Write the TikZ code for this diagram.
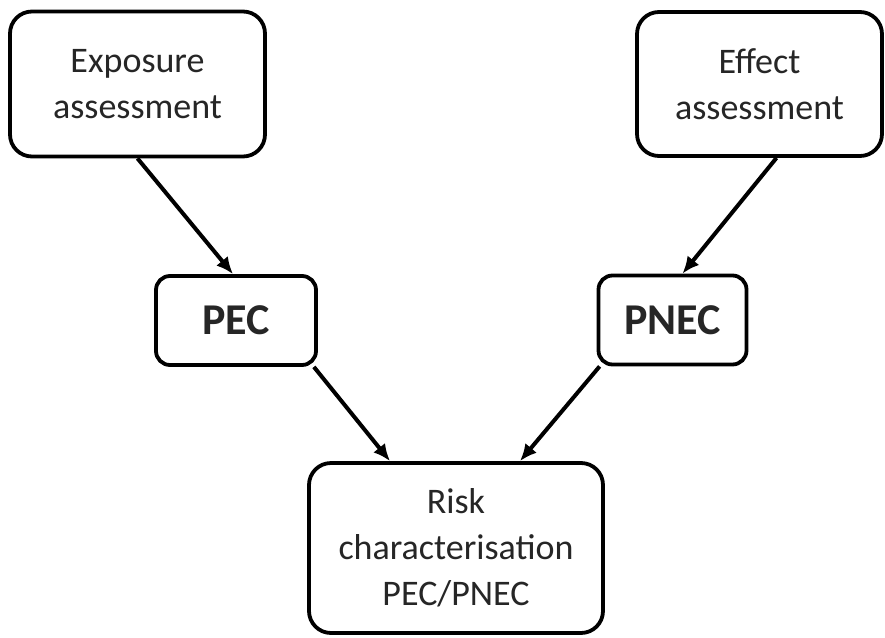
\documentclass[tikz,border=0pt]{standalone}
\usepackage{fontspec}
\setmainfont{Carlito}
\usetikzlibrary{arrows.meta,calc}
\begin{document}
\begin{tikzpicture}[x=1pt,y=-1pt,
  box/.style={draw=black,line width=3.8pt,rounded corners=22pt,align=center,
    inner sep=0pt,text=black!85,font=\fontsize{36}{46}\selectfont},
  smallbox/.style={box,rounded corners=14pt,font=\fontsize{44}{50}\selectfont\bfseries},
  arr/.style={line width=4pt,-{Latex[length=17pt,width=15pt]}}]
\useasboundingbox[fill=white] (0,0) rectangle (885,637);
\node[box,minimum width=255pt,minimum height=145pt] (exp) at (137.5,84) {Exposure\\assessment};
\node[box,minimum width=245pt,minimum height=144pt] (eff) at (759.5,84) {Effect\\assessment};
\node[smallbox,minimum width=160pt,minimum height=89pt] (pec) at (236,320.5) {PEC};
\node[smallbox,minimum width=148pt,minimum height=89pt] (pnec) at (672.5,320) {PNEC};
\node[box,minimum width=294pt,minimum height=170pt] (risk) at (456,548) {Risk\\characterisation\\PEC/PNEC};
\draw[arr] (exp.south) -- ($(pec.north)+(-3,0)$);
\draw[arr] ($(eff.south)+(17,0)$) -- ($(pnec.north)+(10,0)$);
\draw[arr] ($(pec.south east)+(-4,0)$) -- ($(risk.north)+(-66,0)$);
\draw[arr] ($(pnec.south west)+(3,0)$) -- ($(risk.north)+(64,0)$);
\end{tikzpicture}
\end{document}
